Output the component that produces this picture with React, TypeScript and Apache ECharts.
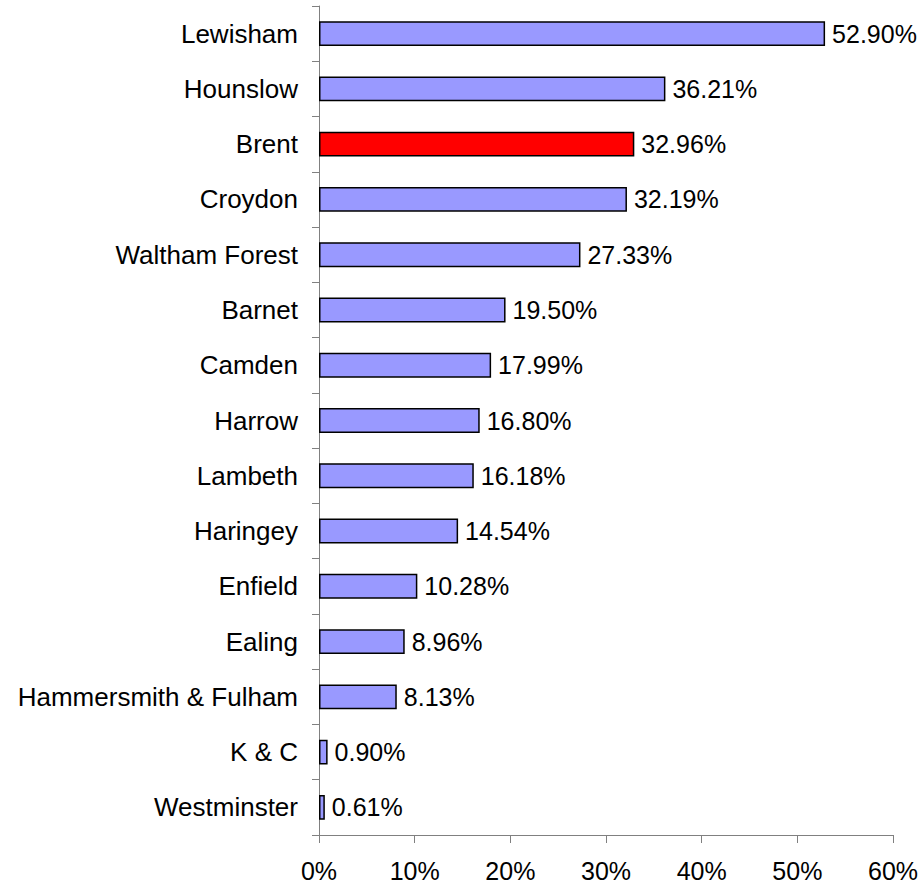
import React, { useEffect, useRef } from "react";
import * as echarts from "echarts";

const boroughs = [
  "Lewisham",
  "Hounslow",
  "Brent",
  "Croydon",
  "Waltham Forest",
  "Barnet",
  "Camden",
  "Harrow",
  "Lambeth",
  "Haringey",
  "Enfield",
  "Ealing",
  "Hammersmith & Fulham",
  "K & C",
  "Westminster",
];
const percentages = [52.9, 36.21, 32.96, 32.19, 27.33, 19.5, 17.99, 16.8, 16.18, 14.54, 10.28, 8.96, 8.13, 0.9, 0.61];
const highlighted = "Brent";

const FONT = "'Liberation Sans', Arial, sans-serif";

export default function App() {
  const ref = useRef<HTMLDivElement>(null);
  useEffect(() => {
    if (!ref.current) return;
    const chart = echarts.init(ref.current, null, { renderer: "svg" });
    chart.setOption({
      animation: false,
      grid: { left: 319, right: 29, top: 6, bottom: 53, containLabel: false },
      xAxis: {
        type: "value",
        min: 0,
        max: 60,
        interval: 10,
        axisLine: { show: true, lineStyle: { color: "#808080", width: 1 } },
        axisTick: { show: true, length: 8, lineStyle: { color: "#808080" } },
        splitLine: { show: false },
        axisLabel: {
          formatter: "{value}%",
          color: "#000",
          fontSize: 25,
          fontFamily: FONT,
          margin: 23,
        },
      },
      yAxis: {
        type: "category",
        data: boroughs,
        inverse: true,
        axisLine: { show: true, lineStyle: { color: "#808080", width: 1 } },
        axisTick: { show: true, length: 7, lineStyle: { color: "#808080" } },
        axisLabel: {
          color: "#000",
          fontSize: 26,
          fontFamily: FONT,
          margin: 21,
        },
      },
      series: [
        {
          type: "bar",
          barWidth: "45%",
          data: percentages.map((v, i) => ({
            value: v,
            itemStyle: {
              color: boroughs[i] === highlighted ? "#FF0000" : "#9999FF",
              borderColor: "#000",
              borderWidth: 1.5,
            },
          })),
          label: {
            show: true,
            position: "right",
            distance: 7,
            color: "#000",
            fontSize: 25,
            fontFamily: FONT,
            formatter: (p: any) => p.value.toFixed(2) + "%",
          },
        },
      ],
    });
    return () => chart.dispose();
  }, []);
  return <div ref={ref} style={{ width: 922, height: 888, position: "absolute", left: 0, top: 0 }} />;
}
